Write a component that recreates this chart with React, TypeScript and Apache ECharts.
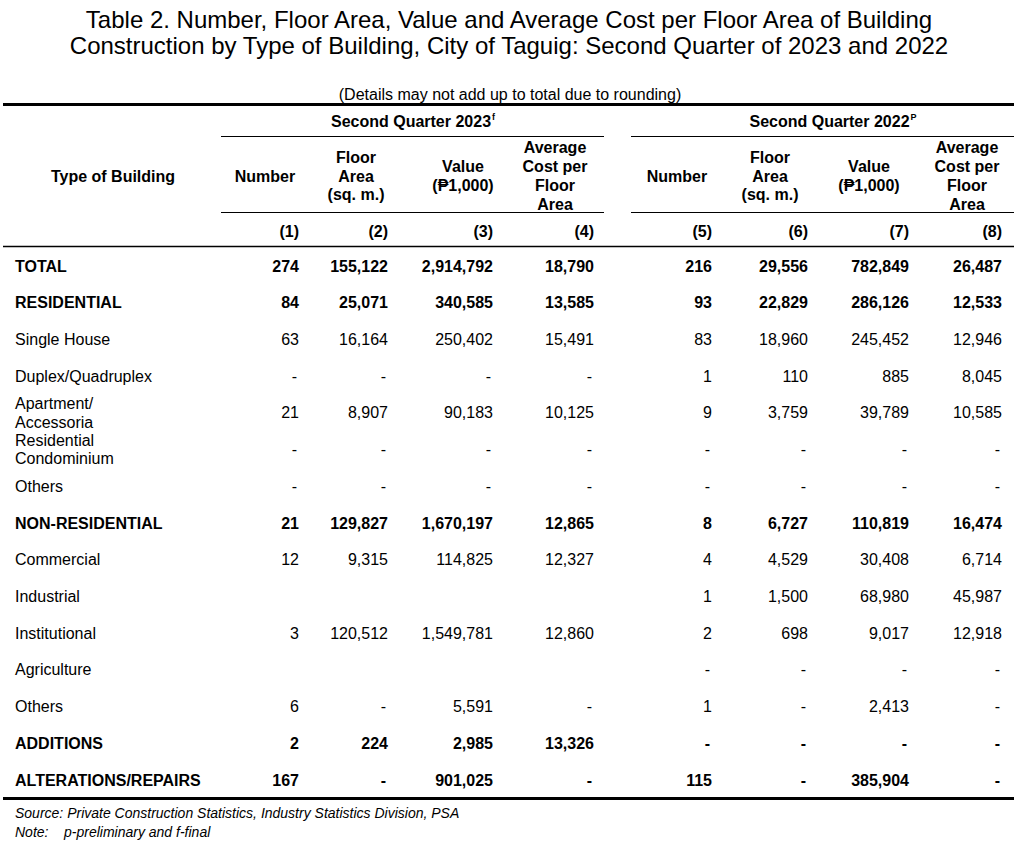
import React, { useEffect, useRef } from "react";
import * as echarts from "echarts";

const titleLines = [
  "Table 2. Number, Floor Area, Value and Average Cost per Floor Area of Building",
  "Construction by Type of Building, City of Taguig: Second Quarter of 2023 and 2022",
];
const subtitle = "(Details may not add up to total due to rounding)";
const groupLabels = ["Second Quarter 2023", "Second Quarter 2022"];
const groupSups = ["f", "P"];
const columnHeaders = [
  "Number",
  "Floor\nArea\n(sq. m.)",
  "Value\n(₱1,000)",
  "Average\nCost per\nFloor\nArea",
];
const columnNumbers = ["(1)", "(2)", "(3)", "(4)", "(5)", "(6)", "(7)", "(8)"];
const categories = [
  "TOTAL",
  "RESIDENTIAL",
  "Single House",
  "Duplex/Quadruplex",
  "Apartment/\nAccessoria",
  "Residential\nCondominium",
  "Others",
  "NON-RESIDENTIAL",
  "Commercial",
  "Industrial",
  "Institutional",
  "Agriculture",
  "Others",
  "ADDITIONS",
  "ALTERATIONS/REPAIRS",
];
const boldRows = [0, 1, 7, 13, 14];

type Cell = number | "-" | null;
const number2023: Cell[] = [274, 84, 63, "-", 21, "-", "-", 21, 12, null, 3, null, 6, 2, 167];
const floorArea2023: Cell[] = [155122, 25071, 16164, "-", 8907, "-", "-", 129827, 9315, null, 120512, null, "-", 224, "-"];
const value2023: Cell[] = [2914792, 340585, 250402, "-", 90183, "-", "-", 1670197, 114825, null, 1549781, null, 5591, 2985, 901025];
const avgCost2023: Cell[] = [18790, 13585, 15491, "-", 10125, "-", "-", 12865, 12327, null, 12860, null, "-", 13326, "-"];
const number2022: Cell[] = [216, 93, 83, 1, 9, "-", "-", 8, 4, 1, 2, "-", 1, "-", 115];
const floorArea2022: Cell[] = [29556, 22829, 18960, 110, 3759, "-", "-", 6727, 4529, 1500, 698, "-", "-", "-", "-"];
const value2022: Cell[] = [782849, 286126, 245452, 885, 39789, "-", "-", 110819, 30408, 68980, 9017, "-", 2413, "-", 385904];
const avgCost2022: Cell[] = [26487, 12533, 12946, 8045, 10585, "-", "-", 16474, 6714, 45987, 12918, "-", "-", "-", "-"];
const sourceText = "Source: Private Construction Statistics, Industry Statistics Division, PSA";
const noteLabel = "Note:";
const noteText = "p-preliminary and f-final";

const FAMILY = "Liberation Sans";

function fmt(v: Cell): string {
  if (v === null) return "";
  if (v === "-") return "-";
  return v.toLocaleString("en-US");
}

function measure(text: string, size: number, weight: string): number {
  const c = document.createElement("canvas");
  const ctx = c.getContext("2d");
  if (!ctx) return text.length * size * 0.55;
  ctx.font = `${weight} ${size}px "${FAMILY}"`;
  return ctx.measureText(text).width;
}

function txt(x: number, y: number, text: string, size: number, opts: any = {}) {
  return {
    type: "text",
    x,
    y,
    style: {
      text,
      fill: "#000",
      fontFamily: FAMILY,
      fontSize: size,
      fontWeight: opts.bold ? "bold" : "normal",
      fontStyle: opts.italic ? "italic" : "normal",
      lineHeight: opts.lineHeight,
      align: opts.align || "left",
      verticalAlign: "middle",
    },
  };
}

export default function App() {
  const ref = useRef<HTMLDivElement>(null);
  useEffect(() => {
    if (!ref.current) return;
    const chart = echarts.init(ref.current, undefined, { renderer: "svg" });
    const els: any[] = [];

    titleLines.forEach((t, i) => els.push(txt(509, 19 + i * 26, t, 24, { align: "center" })));
    els.push(txt(510, 94, subtitle, 16, { align: "center" }));

    const hline = (x1: number, x2: number, y: number, w: number) =>
      els.push({ type: "line", shape: { x1, y1: y, x2, y2: y }, style: { stroke: "#000", lineWidth: w } });
    hline(3, 1014, 104.5, 3);
    hline(221, 604, 136.5, 1);
    hline(631, 1014, 136.5, 1);
    hline(221, 604, 212.5, 1);
    hline(631, 1014, 212.5, 1);
    hline(3, 1014, 246.5, 1.5);
    hline(3, 1014, 798.5, 3);

    const groupCenters = [413, 833];
    groupLabels.forEach((g, i) => {
      const w = measure(g, 16, "bold");
      const sw = measure(groupSups[i], 9, "bold");
      const left = groupCenters[i] - (w + sw + 1) / 2;
      els.push(txt(left, 121, g, 16, { bold: true }));
      els.push(txt(left + w + 1, 117, groupSups[i], 9, { bold: true }));
    });

    els.push(txt(113, 176, "Type of Building", 16, { bold: true, align: "center" }));
    const headerCenters = [265, 356, 463, 555, 677, 770, 869, 967];
    headerCenters.forEach((cx, i) => {
      els.push(txt(cx, 176, columnHeaders[i % 4], 16, { bold: true, align: "center", lineHeight: 18.7 }));
    });

    const colRights = [299, 388, 493, 594, 712, 808, 909, 1002];
    columnNumbers.forEach((c, i) => els.push(txt(colRights[i], 231, c, 16, { bold: true, align: "right" })));

    const cols = [number2023, floorArea2023, value2023, avgCost2023, number2022, floorArea2022, value2022, avgCost2022];
    const rowStep = (780 - 266) / 14;
    categories.forEach((cat, r) => {
      const y = 266 + r * rowStep;
      const bold = boldRows.indexOf(r) >= 0;
      els.push(txt(15, y, cat, 16, { bold, lineHeight: 18.5 }));
      cols.forEach((col, c) => {
        const s = fmt(col[r]);
        if (!s) return;
        els.push(txt(colRights[c] - (s === "-" ? 2 : 0), y, s, 16, { bold, align: "right" }));
      });
    });

    els.push(txt(15, 813, sourceText, 14, { italic: true }));
    els.push(txt(15, 832, noteLabel, 14, { italic: true }));
    els.push(txt(64, 832, noteText, 14, { italic: true }));

    chart.setOption({
      animation: false,
      backgroundColor: "#fff",
      graphic: { elements: els },
    });
    return () => chart.dispose();
  }, []);
  return (
    <div
      ref={ref}
      style={{ position: "absolute", left: 0, top: 0, width: 1018, height: 849, background: "#fff" }}
    />
  );
}
